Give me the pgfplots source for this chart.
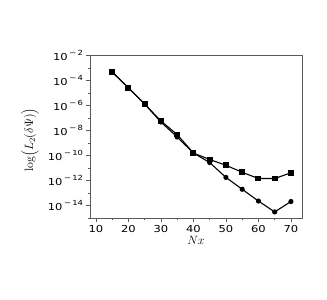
\documentclass[border=0pt]{standalone}
\usepackage{pgfplots}
\pgfplotsset{compat=1.18}
\usepackage{fontspec}
\newfontfamily\tickfont[FakeStretch=1.2]{DejaVu Sans}
\newcommand{\tl}[1]{\tickfont\fontsize{9.6}{10}\selectfont 10\,\raisebox{0.5em}{\fontsize{7}{8}\selectfont −\,#1}}
\begin{document}
\begin{tikzpicture}
\useasboundingbox (0,0) rectangle (327pt,300pt);
\begin{axis}[
  at={(90pt,81.7pt)}, anchor=south west,
  width=212pt, height=162.6pt, scale only axis,
  ymode=log, ymin=1e-15, ymax=1e-2,
  xmin=8.2, xmax=73.4,
  xtick={10,20,30,40,50,60,70},
  minor xtick={15,25,35,45,55,65},
  xticklabels={10,20,30,40,50,60,70},
  xticklabel style={font=\tickfont\fontsize{9.6}{10}\selectfont},
  ytick={1e-2,1e-4,1e-6,1e-8,1e-10,1e-12,1e-14},
  minor ytick={1e-3,1e-5,1e-7,1e-9,1e-11,1e-13,1e-15},
  yticklabels={\tl{2},\tl{4},\tl{6},\tl{8},\tl{10},\tl{12},\tl{14}},
  tick align=outside, tick pos=left,
  major tick length=3.5pt, minor tick length=2pt,
  every tick/.style={gray!70!black, line width=0.6pt},
  axis line style={gray!70!black, line width=0.8pt},
  xlabel={$Nx$},
  xlabel style={at={(axis description cs:0.5,-0.135)}, anchor=center, font=\large},
  ylabel={$\log\!\Big(L_2(\delta\Psi)\Big)$},
  ylabel style={at={(axis description cs:-0.283,0.482)}, anchor=center, font=\large},
]
\addplot[black, line width=1.1pt, mark=*, mark size=2.0pt] coordinates {
 (15,5.01e-4) (20,2.75e-5) (25,1.38e-6) (30,5.01e-8) (35,3.16e-9) (40,1.66e-10)
 (45,2.88e-11) (50,1.86e-12) (55,2.09e-13) (60,2.40e-14) (65,3.24e-15) (70,2.19e-14)};
\addplot[black, line width=1.1pt, mark=square*, mark size=2.4pt] coordinates {
 (15,5.01e-4) (20,2.75e-5) (25,1.38e-6) (30,6.03e-8) (35,5.01e-9) (40,1.66e-10)
 (45,5.01e-11) (50,1.74e-11) (55,4.79e-12) (60,1.51e-12) (65,1.51e-12) (70,4.37e-12)};
\end{axis}
\end{tikzpicture}
\end{document}
